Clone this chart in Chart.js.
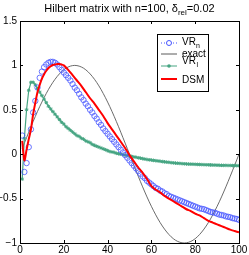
<!DOCTYPE html>
<html><head><meta charset="utf-8">
<script src="https://cdn.jsdelivr.net/npm/chart.js@4/dist/chart.umd.min.js"></script>
<style>html,body{margin:0;padding:0;background:#fff}#wrap{width:249px;height:255px}</style>
</head><body><div id="wrap"><canvas id="c" width="249" height="255"></canvas></div>
<script>
const xTicks = [0, 20, 40, 60, 80, 100];
const yTicks = [-1, -0.5, 0, 0.5, 1, 1.5];

const nIdx = Array.from({length: 100}, (_, i) => i + 1);
const vrN = [0.21,-0.20,-0.10,0.08,0.28,0.47,0.60,0.75,0.86,0.93,
 0.98,1.01,1.03,1.04,1.04,1.03,1.01,0.98,0.95,0.92,
 0.89,0.86,0.83,0.79,0.75,0.72,0.68,0.64,0.61,0.57,
 0.54,0.50,0.47,0.43,0.40,0.36,0.33,0.29,0.26,0.23,
 0.20,0.17,0.14,0.11,0.08,0.05,0.02,-0.01,-0.04,-0.07,
 -0.10,-0.13,-0.16,-0.19,-0.22,-0.25,-0.27,-0.30,-0.32,-0.34,
 -0.36,-0.38,-0.39,-0.41,-0.42,-0.44,-0.45,-0.47,-0.48,-0.49,
 -0.50,-0.51,-0.52,-0.53,-0.54,-0.55,-0.56,-0.57,-0.58,-0.59,
 -0.60,-0.61,-0.615,-0.62,-0.63,-0.64,-0.65,-0.655,-0.66,-0.67,
 -0.68,-0.685,-0.69,-0.70,-0.705,-0.71,-0.72,-0.725,-0.73,-0.74];
const vrL = [-0.28,0.18,0.50,0.72,0.81,0.81,0.78,0.74,0.70,0.66,
 0.62,0.58,0.54,0.51,0.48,0.45,0.42,0.39,0.36,0.34,
 0.31,0.29,0.27,0.25,0.23,0.21,0.20,0.18,0.17,0.15,
 0.14,0.13,0.11,0.10,0.09,0.08,0.07,0.06,0.05,0.04,
 0.03,0.025,0.02,0.01,0.005,0.0,-0.005,-0.01,-0.015,-0.02,
 -0.025,-0.03,-0.035,-0.04,-0.045,-0.05,-0.055,-0.06,-0.063,-0.066,
 -0.07,-0.073,-0.076,-0.08,-0.083,-0.086,-0.089,-0.092,-0.095,-0.098,
 -0.10,-0.102,-0.104,-0.106,-0.108,-0.11,-0.111,-0.112,-0.113,-0.114,
 -0.115,-0.116,-0.117,-0.118,-0.119,-0.12,-0.121,-0.122,-0.123,-0.124,
 -0.125,-0.125,-0.126,-0.126,-0.127,-0.127,-0.128,-0.128,-0.129,-0.13];

const exactX = [1,3,5,7,9,11,13,15,17,19,21,23,25,27,29,31,33,35,37,39,41,43,45,47,49,
 51,53,55,57,59,61,63,65,67,69,71,73,75,77,79,81,83,85,87,89,91,93,95,97,99,100];
const exactY = [0.063,0.187,0.309,0.426,0.536,0.637,0.729,0.809,0.876,0.930,0.969,0.992,1.0,0.992,0.969,0.930,0.876,0.809,0.729,0.637,0.536,0.426,0.309,0.187,0.063,
 -0.063,-0.187,-0.309,-0.426,-0.536,-0.637,-0.729,-0.809,-0.876,-0.930,-0.969,-0.992,-1.0,-0.992,-0.969,-0.930,-0.876,-0.809,-0.729,-0.637,-0.536,-0.426,-0.309,-0.187,-0.063,0.0];

const dsmX = [1,2,3,4,5,6,7,8,9,10,11,12,13,14,15,16,17,18,19,20,22,24,26,28,30,32,34,36,38,40,42,44,46,48,50,52,54,56,58,60,62,64,66,68,70,72,74,76,78,80,82,84,86,88,90,92,94,96,98,100];
const dsmY = [0.15,-0.07,0.05,0.17,0.28,0.45,0.58,0.70,0.78,0.85,0.90,0.94,0.97,0.99,1.005,1.01,1.015,1.015,1.01,1.00,0.95,0.89,0.83,0.77,0.70,0.63,0.57,0.50,0.43,0.35,0.28,0.21,0.14,0.07,-0.01,-0.08,-0.15,-0.21,-0.28,-0.36,-0.40,-0.43,-0.47,-0.50,-0.53,-0.56,-0.59,-0.62,-0.64,-0.67,-0.69,-0.72,-0.75,-0.77,-0.79,-0.81,-0.83,-0.85,-0.865,-0.88];

const toPts = (xs, ys) => xs.map((x, i) => ({x, y: ys[i]}));
const FONT = "'Liberation Sans', Arial, sans-serif";
const BLUE = 'rgb(70,85,255)', GREEN = 'rgb(70,165,130)', RED = 'rgb(255,0,0)', GRAY = 'rgb(90,90,90)';

const decor = {
  id: 'decor',
  afterDraw(chart) {
    const ctx = chart.ctx, a = chart.chartArea, xs = chart.scales.x, ys = chart.scales.y;
    ctx.save();
    ctx.textAlign = 'left';
    ctx.strokeStyle = '#000'; ctx.lineWidth = 1;
    ctx.strokeRect(Math.round(a.left) + 0.5, Math.round(a.top) + 0.5, Math.round(a.right - a.left), Math.round(a.bottom - a.top));
    ctx.beginPath();
    xTicks.forEach(v => { const p = Math.round(xs.getPixelForValue(v)) + 0.5;
      ctx.moveTo(p, a.bottom); ctx.lineTo(p, a.bottom - 3); ctx.moveTo(p, a.top); ctx.lineTo(p, a.top + 3); });
    yTicks.forEach(v => { const p = Math.round(ys.getPixelForValue(v)) + 0.5;
      ctx.moveTo(a.left, p); ctx.lineTo(a.left + 3, p); ctx.moveTo(a.right, p); ctx.lineTo(a.right - 3, p); });
    ctx.stroke();
    // title
    ctx.fillStyle = '#000';
    ctx.textBaseline = 'alphabetic';
    const t1 = 'Hilbert matrix with n=100, \u03b4', t2 = 'rel', t3 = '=0.02';
    ctx.font = '11px ' + FONT; const w1 = ctx.measureText(t1).width, w3 = ctx.measureText(t3).width;
    ctx.font = '8px ' + FONT; const w2 = ctx.measureText(t2).width;
    let x0 = (a.left + a.right) / 2 - (w1 + w2 + w3) / 2;
    ctx.font = '11px ' + FONT; ctx.fillText(t1, x0, 12);
    ctx.font = '8px ' + FONT; ctx.fillText(t2, x0 + w1, 15);
    ctx.font = '11px ' + FONT; ctx.fillText(t3, x0 + w1 + w2, 12);
    // legend
    const bx = 157.5, by = 34.5, bw = 51, bh = 57;
    ctx.fillStyle = '#fff'; ctx.fillRect(bx, by, bw, bh);
    ctx.strokeStyle = '#000'; ctx.lineWidth = 1; ctx.strokeRect(bx, by, bw, bh);
    const lx0 = 161, lx1 = 177, tx = 182;
    const rows = [43, 54, 66, 79];
    // VRn
    ctx.strokeStyle = BLUE; ctx.lineWidth = 1; ctx.setLineDash([1, 2]);
    ctx.beginPath(); ctx.moveTo(lx0, rows[0]); ctx.lineTo(lx1, rows[0]); ctx.stroke(); ctx.setLineDash([]);
    ctx.beginPath(); ctx.arc(169, rows[0], 2.5, 0, Math.PI * 2); ctx.fillStyle = '#fff'; ctx.fill(); ctx.stroke();
    // exact
    ctx.strokeStyle = GRAY; ctx.lineWidth = 1;
    ctx.beginPath(); ctx.moveTo(lx0, rows[1]); ctx.lineTo(lx1, rows[1]); ctx.stroke();
    // VRl
    ctx.strokeStyle = GREEN;
    ctx.beginPath(); ctx.moveTo(lx0, rows[2]); ctx.lineTo(lx1, rows[2]); ctx.stroke();
    ctx.fillStyle = GREEN; ctx.beginPath(); ctx.arc(169, rows[2], 1.8, 0, Math.PI * 2); ctx.fill();
    // DSM
    ctx.strokeStyle = RED; ctx.lineWidth = 2;
    ctx.beginPath(); ctx.moveTo(lx0, rows[3]); ctx.lineTo(lx1, rows[3]); ctx.stroke();
    ctx.fillStyle = '#000'; ctx.textBaseline = 'alphabetic';
    const mainF = '10px ' + FONT, subF = '7px ' + FONT;
    ctx.font = mainF; ctx.fillText('VR', tx, 45); let w = ctx.measureText('VR').width;
    ctx.font = subF; ctx.fillText('n', tx + w, 48);
    ctx.font = mainF; ctx.fillText('exact', tx, 57);
    ctx.fillText('VR', tx, 64); w = ctx.measureText('VR').width;
    ctx.font = subF; ctx.fillText('l', tx + w + 0.5, 67);
    ctx.font = mainF; ctx.fillText('DSM', tx, 83);
    ctx.restore();
  }
};

new Chart(document.getElementById('c'), {
  type: 'line',
  data: {
    datasets: [
      { data: toPts(exactX, exactY), borderColor: GRAY, borderWidth: 0.9, pointRadius: 0, tension: 0.3, order: 3 },
      { data: toPts(nIdx, vrL), borderColor: GREEN, borderWidth: 1.2, pointStyle: 'star', pointRadius: 1.8, pointBorderColor: GREEN, pointBorderWidth: 1, pointBackgroundColor: GREEN, order: 2 },
      { data: toPts(nIdx, vrN), showLine: false, pointStyle: 'circle', pointRadius: 2.7, pointBorderColor: BLUE, pointBackgroundColor: 'rgba(0,0,0,0)', pointBorderWidth: 0.8, borderColor: BLUE, order: 1 },
      { data: toPts(dsmX, dsmY), borderColor: RED, borderWidth: 2, pointRadius: 0, tension: 0.3, order: 0 }
    ]
  },
  options: {
    responsive: false, animation: false, devicePixelRatio: 1,
    layout: { padding: { top: 21, right: 10, left: 0, bottom: 0 } },
    plugins: { legend: { display: false }, title: { display: false }, tooltip: { enabled: false } },
    scales: {
      x: { type: 'linear', min: 0, max: 100,
        afterBuildTicks: s => { s.ticks = xTicks.map(v => ({value: v})); },
        afterFit: s => { s.height = 12; },
        grid: { display: false, drawTicks: false }, border: { display: false },
        ticks: { padding: 1, color: '#000', font: { family: FONT, size: 10 }, maxRotation: 0, autoSkip: false } },
      y: { type: 'linear', min: -1, max: 1.5,
        afterBuildTicks: s => { s.ticks = yTicks.map(v => ({value: v})); },
        afterFit: s => { s.width = 20; },
        grid: { display: false, drawTicks: false }, border: { display: false },
        ticks: { padding: 3, color: '#000', font: { family: FONT, size: 10 }, autoSkip: false,
          callback: v => String(v).replace('-', '\u2212') } }
    }
  },
  plugins: [decor]
});
</script></body></html>
